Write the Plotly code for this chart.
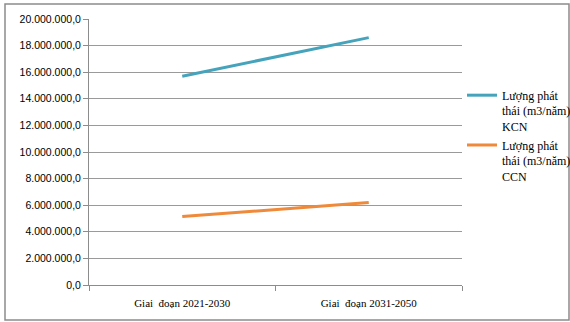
import plotly.graph_objects as go

# Emission volume by period (m3/năm)
periods = ["Giai\u00a0 đoạn 2021-2030", "Giai\u00a0 đoạn 2031-2050"]
kcn_emission = [15700000, 18600000]
ccn_emission = [5150000, 6200000]
series_names = ["Lượng phát<br>thái (m3/năm)<br>KCN", "Lượng phát<br>thái (m3/năm)<br>CCN"]

W, H = 570, 322
L, R, T, B = 89, 108, 19, 36.5
pw, ph = W - L - R, H - T - B

fig = go.Figure()
fig.add_trace(go.Scatter(x=periods, y=kcn_emission, mode="lines", name=series_names[0],
                         line=dict(color="#46A3BC", width=3)))
fig.add_trace(go.Scatter(x=periods, y=ccn_emission, mode="lines", name=series_names[1],
                         line=dict(color="#EE8A3A", width=3)))

# outer chart frame
fig.add_shape(type="rect", xref="paper", yref="paper",
              x0=(5 - L) / pw, x1=(569 - L) / pw,
              y0=(H - B - 320.5) / ph, y1=(H - B - 4) / ph,
              line=dict(color="#8C8C8C", width=1.5), layer="below")

fig.update_layout(
    width=W, height=H,
    margin=dict(l=L, r=R, t=T, b=B, autoexpand=False),
    paper_bgcolor="white", plot_bgcolor="white",
    separators=",.",
    showlegend=True,
    legend=dict(x=(462 - L) / pw, y=(H - B - 81) / ph, xanchor="left", yanchor="top",
                font=dict(family="Liberation Serif", size=12, color="black"),
                valign="top", tracegroupgap=0, bgcolor="rgba(0,0,0,0)"),
    xaxis=dict(type="category", tickson="boundaries", showgrid=False,
               showline=True, linecolor="#8C8C8C", linewidth=1,
               ticks="outside", ticklen=5, tickcolor="#8C8C8C",
               ticklabelstandoff=8,
               tickfont=dict(family="Liberation Serif", size=11, color="black"),
               range=[-0.5, 1.5]),
    yaxis=dict(range=[0, 20000000], dtick=2000000, tickformat=",.1f",
               showgrid=True, gridcolor="#9A9A9A", gridwidth=1,
               showline=True, linecolor="#8C8C8C", linewidth=1,
               ticks="outside", ticklen=5, tickcolor="#8C8C8C",
               zeroline=False,
               tickfont=dict(family="Liberation Sans", size=10.5, color="black")),
)

fig.write_html("out.html")
